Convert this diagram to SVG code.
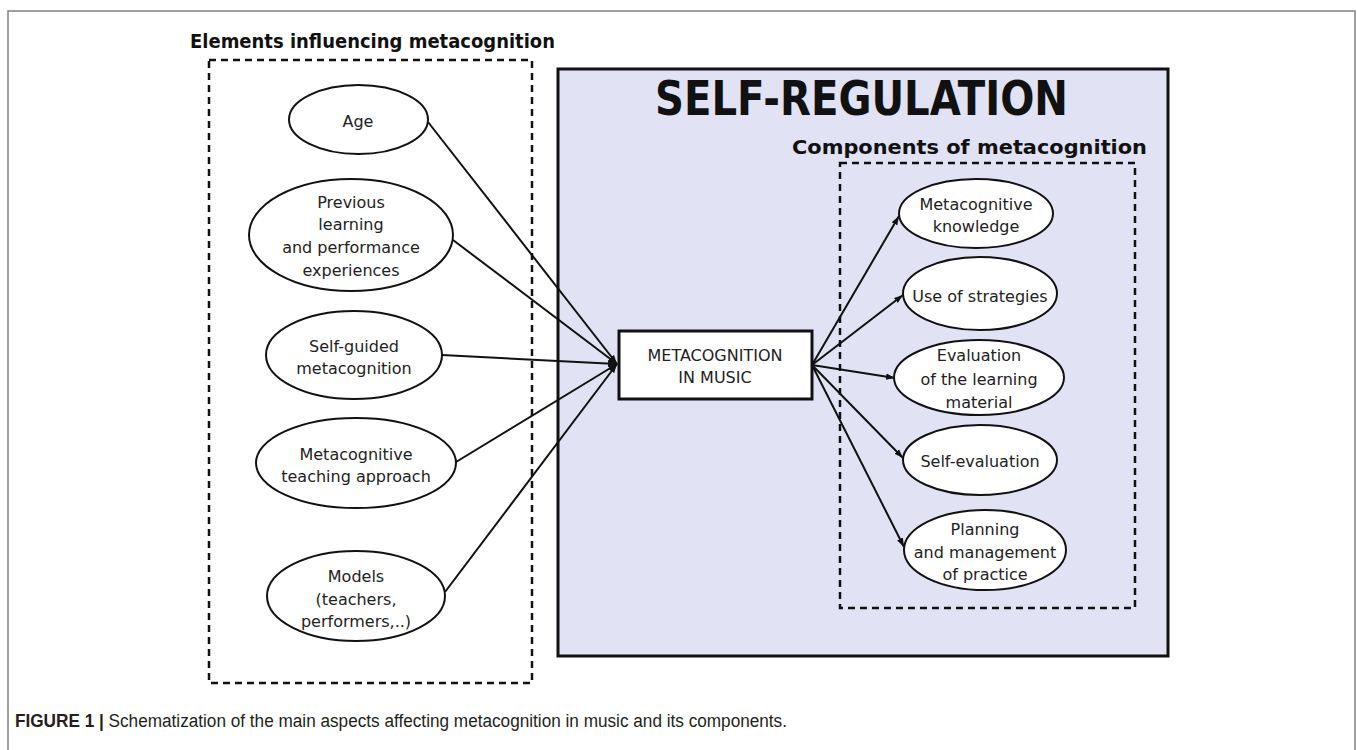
<svg xmlns="http://www.w3.org/2000/svg" width="1357" height="750" viewBox="0 0 1357 750">
  <style>
    .frame { fill: #ffffff; stroke: #808080; stroke-width: 1.5; }
    .dashed { fill: none; stroke: #111; stroke-width: 2.5; stroke-dasharray: 7 5; }
    .region { fill: #e1e3f4; stroke: #111; stroke-width: 3; }
    .node { fill: #ffffff; stroke: #111; stroke-width: 2; }
    .core { fill: #ffffff; stroke: #111; stroke-width: 3; }
    .heading { font-family: "DejaVu Sans", Verdana, sans-serif; font-weight: bold; fill: #111; }
    .label { font-family: "DejaVu Sans", Verdana, sans-serif; font-size: 16px; fill: #222; text-anchor: middle; }
    .edge { stroke: #111; stroke-width: 2; fill: none; }
    .caption { font-family: "Liberation Sans", Arial, sans-serif; font-size: 18px; fill: #231f20; }
  </style>
  <defs>
    <marker id="tip" markerUnits="userSpaceOnUse" markerWidth="10" markerHeight="8" refX="9" refY="4" orient="auto">
      <path d="M0,0.8 L9,4 L0,7.2 Z" fill="#111"/>
    </marker>
  </defs>

  <!-- page frame -->
  <rect class="frame" x="8" y="11" width="1347" height="760"/>

  <!-- left panel: influencing elements -->
  <g id="influences-panel">
    <text class="heading" x="190" y="48" font-size="19.5" textLength="365" lengthAdjust="spacingAndGlyphs">Elements influencing metacognition</text>
    <rect class="dashed" x="209" y="60" width="323" height="623"/>
  </g>

  <!-- self-regulation region -->
  <g id="self-regulation">
    <rect class="region" x="558" y="69" width="610" height="587"/>
    <text class="heading" x="655" y="115" font-size="48" textLength="413" lengthAdjust="spacingAndGlyphs">SELF-REGULATION</text>
  </g>

  <!-- components panel -->
  <g id="components-panel">
    <text class="heading" x="792" y="154" font-size="19.5" textLength="355" lengthAdjust="spacingAndGlyphs">Components of metacognition</text>
    <rect class="dashed" x="840" y="163" width="295" height="445"/>
  </g>

  <!-- connectors -->
  <g id="connectors">
    <line class="edge" x1="428" y1="122" x2="617" y2="364" marker-end="url(#tip)"/>
    <line class="edge" x1="453" y1="240" x2="617" y2="364" marker-end="url(#tip)"/>
    <line class="edge" x1="442" y1="355" x2="617" y2="364" marker-end="url(#tip)"/>
    <line class="edge" x1="456" y1="462" x2="617" y2="364" marker-end="url(#tip)"/>
    <line class="edge" x1="445" y1="592" x2="617" y2="364" marker-end="url(#tip)"/>

    <line class="edge" x1="812" y1="365" x2="899" y2="216" marker-end="url(#tip)"/>
    <line class="edge" x1="812" y1="365" x2="903" y2="295" marker-end="url(#tip)"/>
    <line class="edge" x1="812" y1="365" x2="895" y2="378" marker-end="url(#tip)"/>
    <line class="edge" x1="812" y1="365" x2="903" y2="458" marker-end="url(#tip)"/>
    <line class="edge" x1="812" y1="365" x2="904" y2="547" marker-end="url(#tip)"/>
  </g>

  <!-- influencing elements -->
  <g id="age">
    <ellipse class="node" cx="358.5" cy="119.5" rx="69.5" ry="34.5"/>
    <text class="label" x="358" y="127">Age</text>
  </g>
  <g id="previous-experiences">
    <ellipse class="node" cx="351" cy="235" rx="102" ry="56"/>
    <text class="label" x="351" y="208">Previous</text>
    <text class="label" x="351" y="230">learning</text>
    <text class="label" x="351" y="253">and performance</text>
    <text class="label" x="351" y="276">experiences</text>
  </g>
  <g id="self-guided">
    <ellipse class="node" cx="354" cy="355" rx="88" ry="44"/>
    <text class="label" x="354" y="352">Self-guided</text>
    <text class="label" x="354" y="374">metacognition</text>
  </g>
  <g id="teaching-approach">
    <ellipse class="node" cx="356" cy="463" rx="100" ry="45"/>
    <text class="label" x="356" y="460">Metacognitive</text>
    <text class="label" x="356" y="482">teaching approach</text>
  </g>
  <g id="models">
    <ellipse class="node" cx="356" cy="596" rx="89" ry="45"/>
    <text class="label" x="356" y="582">Models</text>
    <text class="label" x="356" y="605">(teachers,</text>
    <text class="label" x="356" y="627">performers,..)</text>
  </g>

  <!-- central node -->
  <g id="metacognition-in-music">
    <rect class="core" x="619" y="331" width="193" height="68"/>
    <text class="label" x="715" y="361">METACOGNITION</text>
    <text class="label" x="715" y="383">IN MUSIC</text>
  </g>

  <!-- components -->
  <g id="metacognitive-knowledge">
    <ellipse class="node" cx="976" cy="213.5" rx="77" ry="34.5"/>
    <text class="label" x="976" y="210">Metacognitive</text>
    <text class="label" x="976" y="232">knowledge</text>
  </g>
  <g id="use-of-strategies">
    <ellipse class="node" cx="980" cy="293.5" rx="77" ry="36.5"/>
    <text class="label" x="980" y="302">Use of strategies</text>
  </g>
  <g id="evaluation-material">
    <ellipse class="node" cx="979" cy="377.5" rx="85" ry="37.5"/>
    <text class="label" x="979" y="361">Evaluation</text>
    <text class="label" x="979" y="385">of the learning</text>
    <text class="label" x="979" y="408">material</text>
  </g>
  <g id="self-evaluation">
    <ellipse class="node" cx="980" cy="460" rx="77" ry="35"/>
    <text class="label" x="980" y="467">Self-evaluation</text>
  </g>
  <g id="planning-practice">
    <ellipse class="node" cx="985" cy="550" rx="81" ry="40"/>
    <text class="label" x="985" y="535">Planning</text>
    <text class="label" x="985" y="558">and management</text>
    <text class="label" x="985" y="580">of practice</text>
  </g>

  <!-- caption -->
  <text class="caption" x="15" y="727" textLength="772" lengthAdjust="spacingAndGlyphs"><tspan font-weight="bold">FIGURE 1 |</tspan> Schematization of the main aspects affecting metacognition in music and its components.</text>
</svg>
